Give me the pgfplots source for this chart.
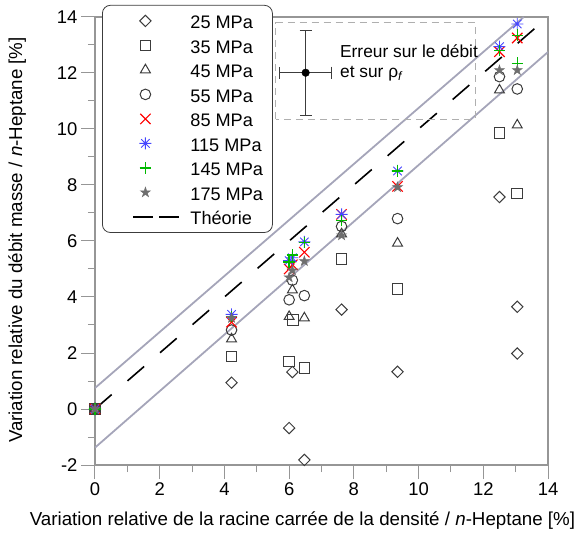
\documentclass[border=0pt]{standalone}
\usepackage{pgfplots}
\pgfplotsset{compat=1.18}
\usepackage{fontspec}
\setmainfont{Liberation Sans}
\setsansfont{Liberation Sans}

\definecolor{axgray}{RGB}{150,150,150}
\definecolor{envgray}{RGB}{165,165,185}
\definecolor{mkgray}{RGB}{60,60,60}
\definecolor{starblue}{RGB}{70,70,255}
\definecolor{pgreen}{RGB}{0,185,0}
\definecolor{stargray}{RGB}{110,110,110}
\definecolor{boxgray}{RGB}{175,175,175}

\pgfdeclareplotmark{ast8}{%
 \pgfpathmoveto{\pgfqpoint{-\pgfplotmarksize}{0pt}}\pgfpathlineto{\pgfqpoint{\pgfplotmarksize}{0pt}}%
 \pgfpathmoveto{\pgfqpoint{0pt}{-\pgfplotmarksize}}\pgfpathlineto{\pgfqpoint{0pt}{\pgfplotmarksize}}%
 \pgfpathmoveto{\pgfqpoint{-.7071\pgfplotmarksize}{-.7071\pgfplotmarksize}}\pgfpathlineto{\pgfqpoint{.7071\pgfplotmarksize}{.7071\pgfplotmarksize}}%
 \pgfpathmoveto{\pgfqpoint{-.7071\pgfplotmarksize}{.7071\pgfplotmarksize}}\pgfpathlineto{\pgfqpoint{.7071\pgfplotmarksize}{-.7071\pgfplotmarksize}}%
 \pgfusepathqstroke}

\pgfdeclareplotmark{myplus}{%
 \pgfpathmoveto{\pgfqpoint{-\pgfplotmarksize}{0pt}}\pgfpathlineto{\pgfqpoint{\pgfplotmarksize}{0pt}}%
 \pgfpathmoveto{\pgfqpoint{0pt}{-\pgfplotmarksize}}\pgfpathlineto{\pgfqpoint{0pt}{\pgfplotmarksize}}%
 \pgfusepathqstroke}

\pgfdeclareplotmark{fstar}{%
 \pgfpathmoveto{\pgfqpoint{0pt}{\pgfplotmarksize}}%
 \pgfpathlineto{\pgfqpoint{-.2245\pgfplotmarksize}{.309\pgfplotmarksize}}%
 \pgfpathlineto{\pgfqpoint{-.9511\pgfplotmarksize}{.309\pgfplotmarksize}}%
 \pgfpathlineto{\pgfqpoint{-.3633\pgfplotmarksize}{-.118\pgfplotmarksize}}%
 \pgfpathlineto{\pgfqpoint{-.5878\pgfplotmarksize}{-.809\pgfplotmarksize}}%
 \pgfpathlineto{\pgfqpoint{0pt}{-.382\pgfplotmarksize}}%
 \pgfpathlineto{\pgfqpoint{.5878\pgfplotmarksize}{-.809\pgfplotmarksize}}%
 \pgfpathlineto{\pgfqpoint{.3633\pgfplotmarksize}{-.118\pgfplotmarksize}}%
 \pgfpathlineto{\pgfqpoint{.9511\pgfplotmarksize}{.309\pgfplotmarksize}}%
 \pgfpathlineto{\pgfqpoint{.2245\pgfplotmarksize}{.309\pgfplotmarksize}}%
 \pgfpathclose
 \pgfusepathqfillstroke}

\pgfplotsset{
 mk/.style={only marks,
   legend image code/.code={%
     \path[draw=none,fill=none] (0bp,0bp) -- (78bp,0bp);
     \draw[##1] plot[only marks] coordinates {(33bp,0bp)};}},
 theo/.style={
   legend image code/.code={%
     \path[draw=none,fill=none] (0bp,0bp) -- (78bp,0bp);
     \draw[##1, dash pattern=on 20bp off 6bp] (21bp,0bp) -- (67bp,0bp);}},
}
\newcommand{\lt}[1]{\makebox[72bp][l]{#1}}

\begin{document}
\begin{tikzpicture}
\path[use as bounding box] (-95bp,-70bp) rectangle (486bp,465bp);
\begin{axis}[
  scale only axis, width=453bp, height=448bp,
  xmin=0, xmax=14, ymin=-2, ymax=14,
  xtick={0,2,...,14}, ytick={-2,0,...,14},
  minor x tick num=1, minor y tick num=1,
  xtick pos=bottom, ytick pos=left,
  tick align=outside,
  major tick length=14bp, minor tick length=7bp,
  axis line style={axgray, line width=1.2bp},
  tick style={axgray, line width=1bp},
  /pgf/number format/assume math mode=true,
  ticklabel style={font=\fontsize{18.5}{20}\selectfont, text=black},
  every axis x label/.style={at={(axis description cs:0.458,-0.123)}, anchor=center, font=\fontsize{18.8}{20}\selectfont},
  every axis y label/.style={at={(axis description cs:-0.172,0.502)}, anchor=center, rotate=90, font=\fontsize{18.8}{20}\selectfont},
  xlabel={Variation relative de la racine carrée de la densité / \textit{n}-Heptane [\%]},
  ylabel={Variation relative du débit masse / \textit{n}-Heptane [\%]},
  legend style={at={(0.0155,1.027)}, anchor=north west, draw=mkgray, rounded corners=8bp,
     line width=0.8bp, fill=white, font=\fontsize{18.2}{20}\selectfont,
     inner xsep=10bp, inner ysep=4bp, row sep=1.3bp, column sep=0bp,
     nodes={inner sep=0pt, text height=19.2bp, text depth=4bp}},
  legend cell align=left,
]
% envelope lines
\addplot[envgray, line width=1.8bp, forget plot] coordinates {(0,0.75) (13.25,14)};
\addplot[envgray, line width=1.8bp, forget plot] coordinates {(0,-1.38) (14,12.75)};

% 25 MPa
\addplot[mk, mkgray, mark=square, mark size=4bp, mark options={rotate=45, draw=mkgray, line width=1bp}] coordinates {
 (0,0) (4.22,0.94) (6.0,-0.68) (6.1,1.32) (6.47,-1.82) (7.62,3.55) (9.35,1.33) (12.5,7.57) (13.05,3.65) (13.05,1.98)};
\addlegendentry{\lt{25 MPa}}
% 35 MPa
\addplot[mk, mkgray, mark=square, mark size=5.3bp, mark options={draw=mkgray, line width=1bp}] coordinates {
 (0,0) (4.22,1.88) (6.0,1.70) (6.12,3.18) (6.47,1.46) (7.62,5.35) (9.35,4.28) (12.5,9.86) (13.05,7.70)};
\addlegendentry{\lt{35 MPa}}
% 45 MPa
\addplot[mk, mkgray, mark=triangle, mark size=5.7bp, mark options={draw=mkgray, line width=1bp}] coordinates {
 (0,0) (4.22,2.50) (6.0,3.30) (6.1,4.25) (6.47,3.25) (7.62,6.25) (9.35,5.92) (12.5,11.39) (13.05,10.14)};
\addlegendentry{\lt{45 MPa}}
% 55 MPa
\addplot[mk, mkgray, mark=o, mark size=5.3bp, mark options={draw=mkgray, line width=1bp}] coordinates {
 (0,0) (4.22,2.82) (6.0,3.90) (6.1,4.60) (6.47,4.05) (7.62,6.52) (9.35,6.80) (12.5,11.87) (13.05,11.43)};
\addlegendentry{\lt{55 MPa}}
% 85 MPa
\addplot[mk, red, mark=x, mark size=7.3bp, mark options={draw=red, line width=1.1bp}] coordinates {
 (0,0) (4.22,3.10) (6.0,5.00) (6.1,5.15) (6.47,5.60) (7.62,6.95) (9.35,7.95) (12.5,12.76) (13.05,13.25)};
\addlegendentry{\lt{85 MPa}}
% 115 MPa
\addplot[mk, starblue, mark=ast8, mark size=6bp, mark options={draw=starblue, line width=0.9bp}] coordinates {
 (0,0) (4.22,3.38) (6.0,5.30) (6.1,5.40) (6.47,5.97) (7.62,6.95) (9.35,8.50) (12.5,12.94) (13.05,13.75)};
\addlegendentry{\lt{115 MPa}}
% 145 MPa
\addplot[mk, pgreen, mark=myplus, mark size=5.7bp, mark options={draw=pgreen, color=pgreen, line width=1.3bp}] coordinates {
 (0,0) (4.22,3.30) (6.0,5.25) (6.1,5.50) (6.47,5.95) (7.62,6.73) (9.35,8.50) (12.5,12.80) (13.05,13.35) (13.05,12.35)};
\addlegendentry{\lt{145 MPa}}
% 175 MPa
\addplot[mk, stargray, mark=fstar, mark size=5.2bp, mark options={draw=stargray, fill=stargray, line width=0.5bp}] coordinates {
 (0,0) (4.22,3.25) (6.0,4.70) (6.1,4.95) (6.47,5.28) (7.62,6.20) (9.35,7.92) (12.5,12.10) (13.05,12.10)};
\addlegendentry{\lt{175 MPa}}
% theory
\addplot[theo, black, line width=1.6bp, dash pattern=on 22bp off 21bp]
  coordinates {(0,0) (14,14)};
\addlegendentry{\lt{Théorie}}

% error inset
\draw[boxgray, line width=0.8bp, dash pattern=on 7bp off 5bp] (axis cs:5.58,10.36) rectangle (axis cs:11.75,13.79);
\addplot[forget plot, only marks, mark=*, mark size=3.8bp, mark options={black},
  error bars/.cd, x dir=both, x explicit, y dir=both, y explicit,
  error bar style={mkgray, line width=0.8bp},
  error mark options={rotate=90, mark size=6bp, mkgray, line width=0.8bp}]
  coordinates {(6.51,12.01) +- (0.80,1.52)};
\node[anchor=west, align=left, inner sep=0pt, font=\fontsize{17.4}{20.5}\selectfont] at (axis cs:7.57,12.36)
  {Erreur sur le débit\\et sur ρ\textsubscript{\textit{f}}};
\end{axis}
\end{tikzpicture}
\end{document}
